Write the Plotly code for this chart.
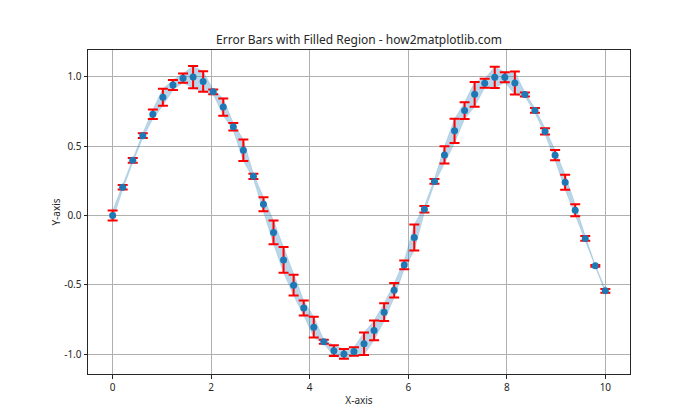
import plotly.graph_objects as go

x_vals = [0.000, 0.204, 0.408, 0.612, 0.816, 1.020, 1.224, 1.429, 1.633, 1.837,
          2.041, 2.245, 2.449, 2.653, 2.857, 3.061, 3.265, 3.469, 3.673, 3.878,
          4.082, 4.286, 4.490, 4.694, 4.898, 5.102, 5.306, 5.510, 5.714, 5.918,
          6.122, 6.327, 6.531, 6.735, 6.939, 7.143, 7.347, 7.551, 7.755, 7.959,
          8.163, 8.367, 8.571, 8.776, 8.980, 9.184, 9.388, 9.592, 9.796, 10.000]

y_vals = [0.000, 0.203, 0.397, 0.575, 0.729, 0.852, 0.940, 0.990, 0.998, 0.965,
          0.891, 0.781, 0.639, 0.470, 0.282, 0.080, -0.123, -0.321, -0.503, -0.668,
          -0.806, -0.911, -0.976, -0.999, -0.982, -0.926, -0.830, -0.698, -0.540, -0.357,
          -0.160, 0.044, 0.245, 0.436, 0.610, 0.756, 0.873, 0.953, 0.996, 0.996,
          0.955, 0.872, 0.757, 0.606, 0.434, 0.239, 0.037, -0.166, -0.364, -0.544]

y_err = [0.036, 0.017, 0.017, 0.017, 0.034, 0.062, 0.036, 0.033, 0.080, 0.074,
         0.017, 0.063, 0.027, 0.077, 0.019, 0.050, 0.086, 0.093, 0.075, 0.054,
         0.075, 0.014, 0.039, 0.035, 0.031, 0.081, 0.071, 0.064, 0.052, 0.031,
         0.094, 0.023, 0.017, 0.062, 0.088, 0.060, 0.090, 0.033, 0.077, 0.036,
         0.083, 0.014, 0.017, 0.023, 0.037, 0.054, 0.043, 0.017, 0.007, 0.014]

x_ticks = [0, 2, 4, 6, 8, 10]
y_ticks = [-1.0, -0.5, 0.0, 0.5, 1.0]
y_tick_text = ["-1.0", "-0.5", "0.0", "0.5", "1.0"]

upper = [y + e for y, e in zip(y_vals, y_err)]
lower = [y - e for y, e in zip(y_vals, y_err)]

FONT = "Noto Sans"
fig = go.Figure()
fig.add_trace(go.Scatter(x=x_vals, y=upper, mode="lines",
                         line=dict(width=0.5, color="rgba(31,119,180,0.3)"),
                         showlegend=False, hoverinfo="skip"))
fig.add_trace(go.Scatter(x=x_vals, y=lower, mode="lines", fill="tonexty",
                         fillcolor="rgba(31,119,180,0.3)",
                         line=dict(width=0.5, color="rgba(31,119,180,0.3)"),
                         showlegend=False, hoverinfo="skip"))
fig.add_trace(go.Scatter(x=x_vals, y=y_vals, mode="markers",
                         marker=dict(size=7, color="#1f77b4"),
                         error_y=dict(type="data", array=y_err, visible=True,
                                      color="red", thickness=2, width=5),
                         showlegend=False))

axis_common = dict(showline=True, mirror=True, linecolor="#262626", linewidth=1,
                   ticks="outside", ticklen=3.5, tickwidth=1, tickcolor="#262626",
                   showgrid=True, gridcolor="#b0b0b0", gridwidth=1, zeroline=False,
                   tickfont=dict(family=FONT, size=10, color="#262626"))

fig.update_layout(
    width=700, height=420,
    margin=dict(l=88, r=70, t=50, b=46),
    plot_bgcolor="white", paper_bgcolor="white",
    title=dict(text="Error Bars with Filled Region - how2matplotlib.com",
               x=0.5, xref="paper", xanchor="center",
               y=1, yref="paper", yanchor="bottom", pad=dict(b=6),
               font=dict(family=FONT, size=12, color="#262626")),
    xaxis=dict(range=[-0.5, 10.5], tickvals=x_ticks,
               title=dict(text="X-axis", standoff=4,
                          font=dict(family=FONT, size=10, color="#262626")),
               **axis_common),
    yaxis=dict(range=[-1.144, 1.193], tickvals=y_ticks, ticktext=y_tick_text,
               title=dict(text="Y-axis", standoff=1,
                          font=dict(family=FONT, size=10, color="#262626")),
               **axis_common),
)

fig.write_html("out.html")
